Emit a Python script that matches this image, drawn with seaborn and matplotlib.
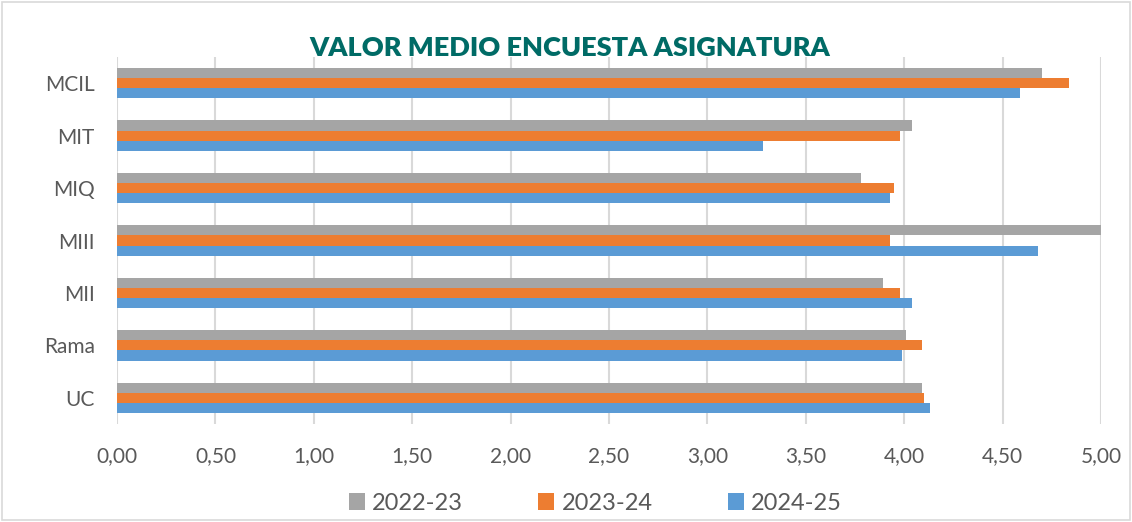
import matplotlib
matplotlib.use('Agg')
import matplotlib.pyplot as plt
import seaborn as sns
import pandas as pd
from matplotlib.patches import Rectangle

categorias = ['MCIL', 'MIT', 'MIQ', 'MIII', 'MII', 'Rama', 'UC']
cursos = ['2022-23', '2023-24', '2024-25']
valores_2022_23 = [4.70, 4.04, 3.78, 5.00, 3.89, 4.01, 4.09]
valores_2023_24 = [4.84, 3.98, 3.95, 3.93, 3.98, 4.09, 4.10]
valores_2024_25 = [4.59, 3.28, 3.93, 4.68, 4.04, 3.99, 4.13]
ticks_x = [0, 0.5, 1, 1.5, 2, 2.5, 3, 3.5, 4, 4.5, 5]
etiquetas_x = ['0,00', '0,50', '1,00', '1,50', '2,00', '2,50', '3,00', '3,50', '4,00', '4,50', '5,00']
colores = ['#A5A5A5', '#ED7D31', '#5B9BD5']

sns.set_style('white')
plt.rcParams['font.family'] = ['Lato', 'DejaVu Sans']

df = pd.DataFrame({
    'Asignatura': categorias * 3,
    'Curso': [c for c in cursos for _ in categorias],
    'Valor': valores_2022_23 + valores_2023_24 + valores_2024_25,
})

fig = plt.figure(figsize=(11.32, 5.22), dpi=100)
ax = fig.add_axes([0.1034, 0.1877, 0.8692, 0.7031])

sns.barplot(data=df, x='Valor', y='Asignatura', hue='Curso', order=categorias,
            hue_order=cursos, palette=colores, orient='h', width=0.58,
            gap=0, saturation=1, linewidth=0, ax=ax, legend=True)

ax.set_xlim(0, 5)
ax.set_ylim(6.5, -0.5)
ax.set_xticks(ticks_x)
ax.set_xticklabels(etiquetas_x)
ax.set_xlabel('')
ax.set_ylabel('')
ax.grid(axis='x', color='#D9D9D9', linewidth=1.5, zorder=0)
ax.set_axisbelow(True)
for s in ax.spines.values():
    s.set_visible(False)
ax.tick_params(axis='x', length=4, color='#D9D9D9', width=1.5, pad=12,
               labelsize=15, labelcolor='#595959')
ax.tick_params(axis='y', length=0, pad=16, labelsize=15, labelcolor='#595959')

fig.text(0.5035, 0.908, 'VALOR MEDIO ENCUESTA ASIGNATURA', ha='center', va='center',
         fontsize=19.5, fontweight='heavy', color='#006B66')

handles, labels = ax.get_legend_handles_labels()
ax.legend_.remove()
fig.legend(handles, labels, loc='center', bbox_to_anchor=(0.526, 0.036), ncol=3,
           frameon=False, fontsize=17, handlelength=0.68, handleheight=0.68,
           handletextpad=0.3, columnspacing=3.2, labelcolor='#595959')

fig.patches.append(Rectangle((0.002, 0.003), 0.996, 0.994, transform=fig.transFigure,
                             fill=False, edgecolor='#D9D9D9', linewidth=1.2))

plt.savefig('out.png', dpi=100)
plt.close()
